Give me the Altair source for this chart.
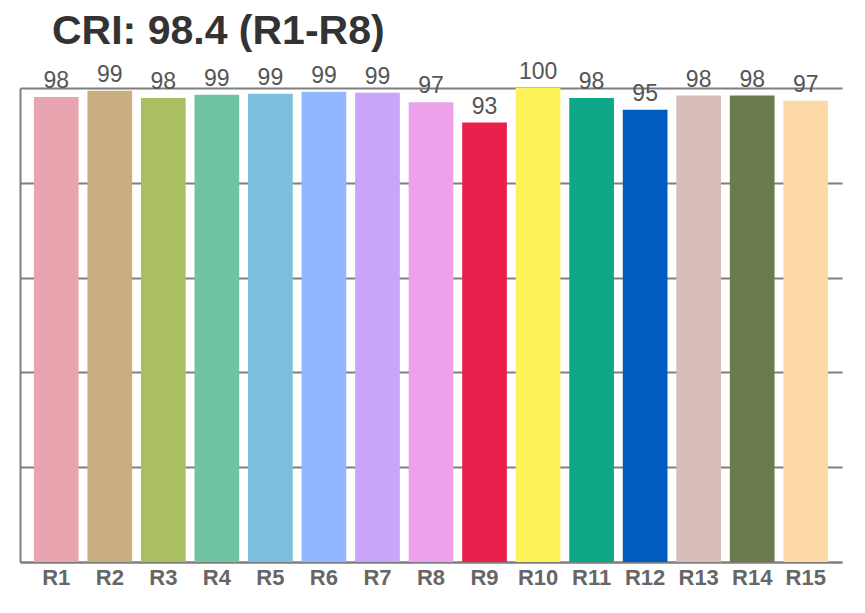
import altair as alt
import pandas as pd

categories = ["R1", "R2", "R3", "R4", "R5", "R6", "R7", "R8", "R9", "R10",
              "R11", "R12", "R13", "R14", "R15"]
values = [98.1, 99.4, 97.9, 98.6, 98.8, 99.2, 99.0, 97.0, 92.7, 100.0,
          97.9, 95.4, 98.4, 98.4, 97.3]
labels = ["98", "99", "98", "99", "99", "99", "99", "97", "93", "100",
          "98", "95", "98", "98", "97"]
colors = ["#E8A5B0", "#C9AE80", "#AABE62", "#6FC4A1", "#7EBFDE", "#90B7FF",
          "#C9A4FA", "#EBA2EA", "#E8204B", "#FDF257", "#0CA888", "#005DC0",
          "#D6BDB7", "#6B7B4E", "#FDD9A7"]

df = pd.DataFrame({"cat": categories, "val": values, "lab": labels})

FONT = "Liberation Sans"

base = alt.Chart(df).encode(
    x=alt.X("cat:N", sort=categories,
            scale=alt.Scale(paddingInner=0.165, paddingOuter=0.26),
            axis=alt.Axis(title=None, labelAngle=0, ticks=False, labelPadding=5,
                          labelFont=FONT, labelFontSize=22, labelFontWeight="bold",
                          labelColor="#666666", domainColor="#7f7f7f",
                          domainWidth=2, grid=False)),
    y=alt.Y("val:Q", scale=alt.Scale(domain=[0, 100], nice=False, zero=True),
            axis=alt.Axis(title=None, labels=False, ticks=False,
                          values=[0, 20, 40, 60, 80, 100], grid=True,
                          gridColor="#7f7f7f", gridWidth=2, gridOpacity=1,
                          domainColor="#7f7f7f", domainWidth=2)),
)

bars = base.mark_bar().encode(
    color=alt.Color("cat:N", scale=alt.Scale(domain=categories, range=colors),
                    legend=None)
)

text = base.mark_text(baseline="bottom", dy=-4, font=FONT, fontSize=23,
                      color="#555555").encode(text="lab:N")

chart = (bars + text).properties(
    width=822,
    height=474,
    title=alt.TitleParams("CRI: 98.4 (R1-R8)", anchor="start", font=FONT,
                          fontSize=41, fontWeight="bold", color="#333333",
                          dx=32, offset=8),
    autosize=alt.AutoSizeParams(type="none"),
    padding={"left": 12, "top": 80, "right": 15, "bottom": 40},
).configure_view(stroke=None)

chart.save("out.html", embed_options={"renderer": "svg", "actions": False})
